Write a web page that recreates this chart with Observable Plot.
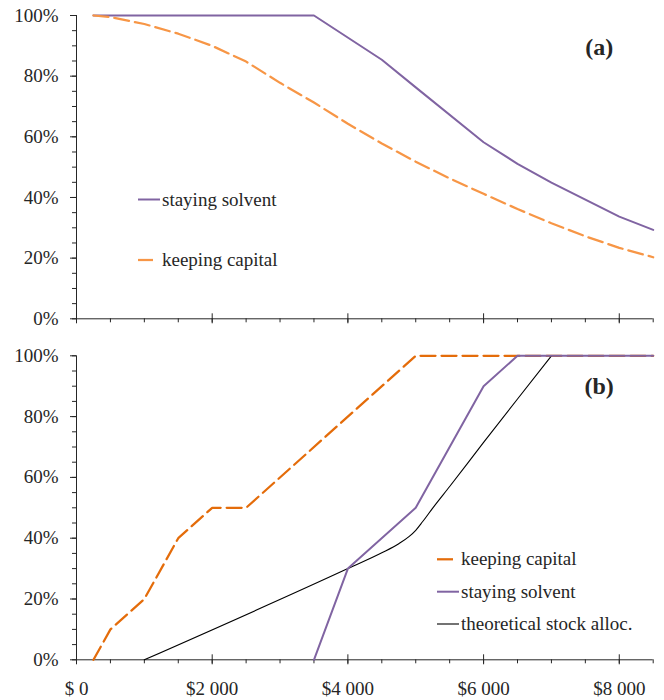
<!DOCTYPE html>
<html>
<head>
<meta charset="utf-8">
<script src="https://cdn.jsdelivr.net/npm/d3@7"></script>
<script src="https://cdn.jsdelivr.net/npm/@observablehq/plot@0.6"></script>
<style>
  body { margin: 0; background: #fff; }
  #wrap { position: relative; width: 664px; height: 700px; font-family: "Liberation Serif", serif; }
  #wrap > svg { display: block; }
  #legend { position: absolute; left: 0; top: 0; pointer-events: none; }
</style>
</head>
<body>
<div id="wrap"></div>
<script>
// Panel (a): probability of staying solvent / keeping capital vs. withdrawal
const solventAx = [250, 3500, 4500, 5000, 6000, 6500, 7000, 8000, 8500];
const solventAy = [100, 100, 85.4, 76.3, 58.2, 51.1, 44.9, 33.7, 29.3];
const capitalAx = [250, 500, 1000, 1500, 2000, 2500, 3000, 3500, 4000, 4500, 5000, 5500, 6000, 6500, 7000, 7500, 8000, 8500];
const capitalAy = [100, 99.5, 97.2, 94, 90, 84.8, 77.8, 71.3, 64.3, 57.8, 51.8, 46.3, 41.2, 36.2, 31.5, 27.2, 23.4, 20.3];

// Panel (b): stock allocation
const capitalBx = [250, 500, 1000, 1500, 2000, 2500, 5000, 8500];
const capitalBy = [0, 10, 20, 40, 50, 50, 100, 100];
const solventBx = [3500, 4000, 5000, 6000, 6500, 8500];
const solventBy = [0, 30, 50, 90, 100, 100];
const theoryBx = [1000, 4000, 4500, 4750, 4900, 5000, 5100, 5250, 5500, 6000, 6500, 7000];
const theoryBy = [0, 30, 35.2, 38.2, 40.5, 42.6, 45.4, 49.9, 57, 71.5, 85.8, 100];

// Axis ticks and labels
const xMajor = [0, 2000, 4000, 6000, 8000];
const xTickLabels = ["$ 0", "$2 000", "$4 000", "$6 000", "$8 000"];
const xMinor = d3.range(0, 8501, 500);
const yMajor = [0, 20, 40, 60, 80, 100];
const yTickLabels = ["0%", "20%", "40%", "60%", "80%", "100%"];
const yMinor = d3.range(0, 101, 5);

const purple = "#8064a2";
const orangeA = "#f79646";
const orangeB = "#e46c0a";
const ink = "#262626";
const font = "'Liberation Serif', serif";

const xLabel = new Map(xMajor.map((v, i) => [v, xTickLabels[i]]));
const yLabel = new Map(yMajor.map((v, i) => [v, yTickLabels[i]]));
const pts = (xs, ys) => xs.map((x, i) => ({x, y: ys[i]}));

function frameMarks(withXLabels) {
  const marks = [
    Plot.axisY({ticks: yMinor, tickSize: 4, text: null, label: null, stroke: ink}),
    Plot.axisY({ticks: yMajor, tickSize: 6, tickPadding: 12, tickFormat: d => yLabel.get(d), label: null, fill: ink, stroke: ink}),
    Plot.axisX({ticks: xMinor, tickSize: 4, text: null, label: null, stroke: ink}),
    Plot.axisX({ticks: xMajor, tickSize: 10, dy: -5, text: null, label: null, stroke: ink}),
    Plot.ruleX([0], {stroke: ink}),
    Plot.ruleY([0], {stroke: ink})
  ];
  if (withXLabels) {
    marks.push(Plot.axisX({ticks: xMajor, tickSize: 0, tickPadding: 22, tickFormat: d => xLabel.get(d), label: null, fill: ink}));
  }
  return marks;
}

const common = {
  width: 664,
  marginLeft: 76,
  marginRight: 11.3,
  x: {domain: [0, 8500]},
  y: {domain: [0, 100]},
  style: {fontFamily: font, fontSize: "19px", color: ink, background: "#fff", overflow: "visible"}
};

const panelA = Plot.plot({
  ...common,
  height: 330,
  marginTop: 15,
  marginBottom: 11.7,
  marks: [
    ...frameMarks(false),
    Plot.line(pts(solventAx, solventAy), {x: "x", y: "y", stroke: purple, strokeWidth: 2}),
    Plot.line(pts(capitalAx, capitalAy), {x: "x", y: "y", stroke: orangeA, strokeWidth: 2.25, strokeDasharray: "15,6"}),
    Plot.text(["(a)"], {frameAnchor: "top-right", dx: -54, dy: 32, textAnchor: "middle", lineAnchor: "middle",
      fontWeight: "bold", fontSize: 24, fill: ink})
  ]
});

const panelB = Plot.plot({
  ...common,
  height: 370,
  marginTop: 25.3,
  marginBottom: 40.7,
  marks: [
    ...frameMarks(true),
    Plot.line(pts(capitalBx, capitalBy), {x: "x", y: "y", stroke: orangeB, strokeWidth: 2.25, strokeDasharray: "15,6"}),
    Plot.line(pts(theoryBx, theoryBy), {x: "x", y: "y", stroke: "#000", strokeWidth: 1.1, curve: "monotone-x"}),
    Plot.line(pts(solventBx, solventBy), {x: "x", y: "y", stroke: purple, strokeWidth: 2}),
    Plot.text(["(b)"], {frameAnchor: "top-right", dx: -54, dy: 31, textAnchor: "middle", lineAnchor: "middle",
      fontWeight: "bold", fontSize: 24, fill: ink})
  ]
});

const wrap = document.getElementById("wrap");
wrap.append(panelA, panelB);

// Legends inside each panel
const legendItems = [
  {label: "staying solvent", color: purple, width: 2, x1: 138, x2: 160, y: 199.5},
  {label: "keeping capital", color: orangeA, width: 2.25, x1: 138, x2: 153, y: 260},
  {label: "keeping capital", color: orangeB, width: 2.25, x1: 437, x2: 453, y: 559.3},
  {label: "staying solvent", color: purple, width: 2, x1: 437, x2: 459, y: 591.7},
  {label: "theoretical stock alloc.", color: "#000", width: 1.1, x1: 437, x2: 459, y: 624}
];
const textStart = [162, 162, 461, 461, 461];

const legend = d3.select(wrap).append("svg")
  .attr("id", "legend")
  .attr("width", 664).attr("height", 700);
legendItems.forEach((d, i) => {
  legend.append("line")
    .attr("x1", d.x1).attr("x2", d.x2).attr("y1", d.y).attr("y2", d.y)
    .attr("stroke", d.color).attr("stroke-width", d.width);
  legend.append("text")
    .attr("x", textStart[i]).attr("y", d.y + 6)
    .attr("font-family", font).attr("font-size", 19).attr("fill", ink)
    .text(d.label);
});
</script>
</body>
</html>
